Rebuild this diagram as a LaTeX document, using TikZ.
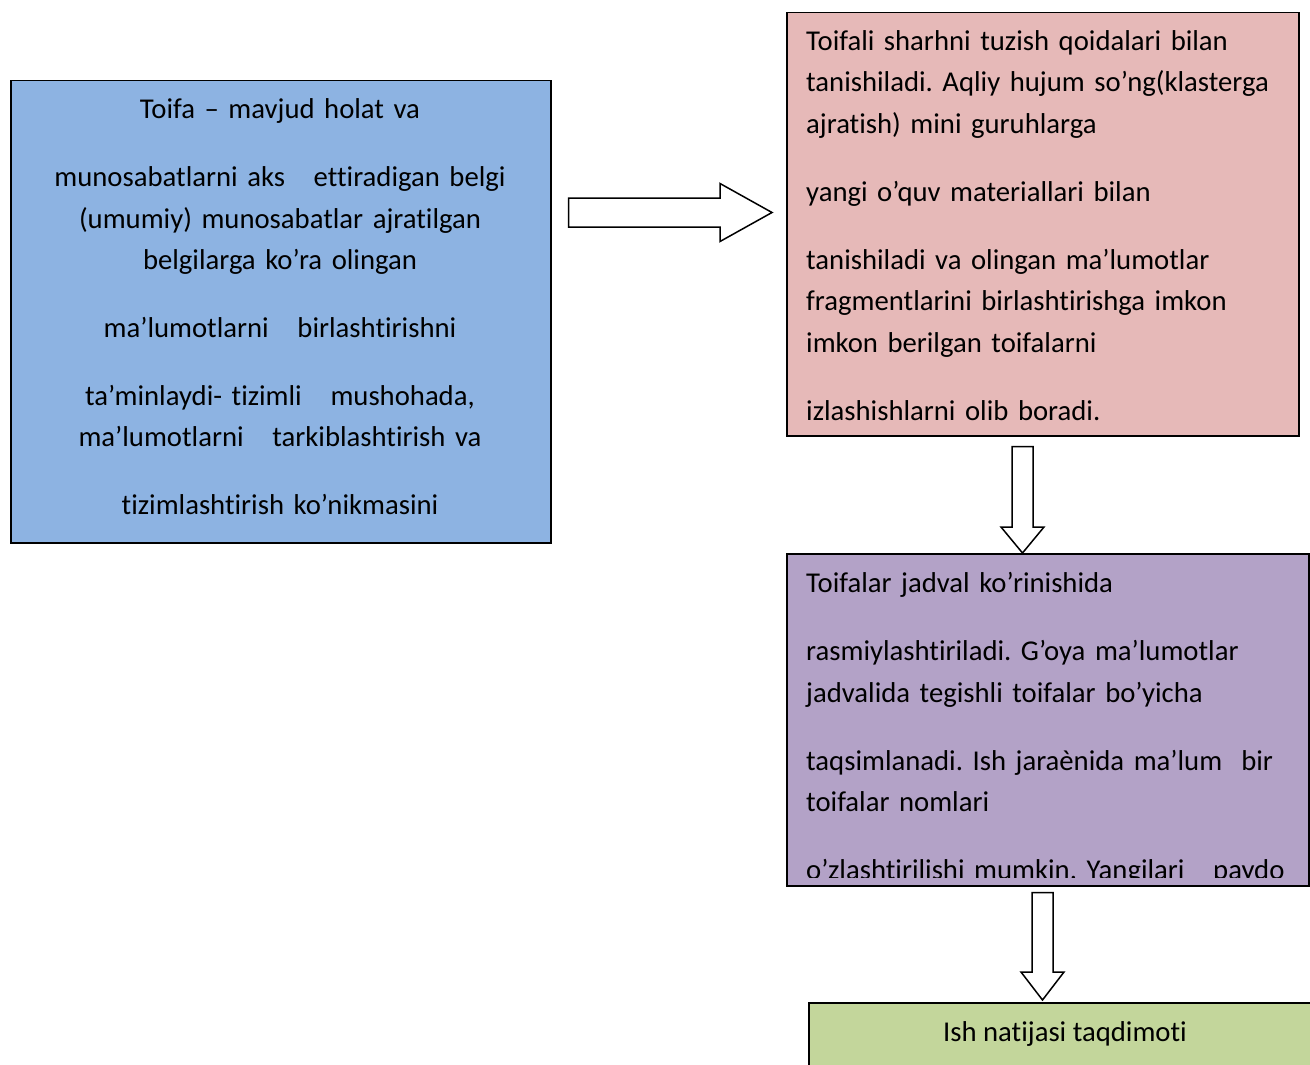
\documentclass[tikz,border=0pt]{standalone}
\usepackage{fontspec}
\setmainfont{Carlito}[Ligatures={TeX,NoCommon}]
\usetikzlibrary{calc}
\frenchspacing

% block arrow: #1 tail, #2 tip, #3 half shaft, #4 half head, #5 head length
\newcommand{\blockarrow}[5]{%
  \coordinate (hb) at ($(#2)!#5!(#1)$);
  \draw[arrowbox] ($(#1)!#3!90:(#2)$) -- ($(hb)!#3!90:(#2)$) -- ($(hb)!#4!90:(#2)$)
    -- (#2) -- ($(hb)!#4!-90:(#2)$) -- ($(hb)!#3!-90:(#2)$) -- ($(#1)!#3!-90:(#2)$) -- cycle;}

\definecolor{toifablue}{HTML}{8DB3E2}
\definecolor{sharhpink}{HTML}{E6B9B8}
\definecolor{jadvalpurple}{HTML}{B3A2C7}
\definecolor{natijagreen}{HTML}{C3D69B}

\begin{document}
\begin{tikzpicture}[x=1pt,y=1pt,
		box/.style={draw=black,line width=1.5pt,inner sep=0pt,anchor=north west},
		txt/.style={inner sep=0pt,font=\fontsize{28.7}{41.5}\selectfont},
		arrowbox/.style={draw=black,line width=1.5pt,fill=white,line join=miter}]
		\useasboundingbox (0,0) rectangle (1310,-1065);
		% boxes
		\node[box,fill=toifablue,minimum width=540pt,minimum height=462pt] (toifa) at (10,-80) {};
		\node[box,fill=sharhpink,minimum width=512pt,minimum height=423pt] (sharh) at (786,-12) {};
		\node[box,fill=jadvalpurple,minimum width=522pt,minimum height=332pt] (jadval) at (786,-553) {};
		\node[box,fill=natijagreen,minimum width=514pt,minimum height=70pt] (natija) at (808,-1002) {};
		% texts
		\node[txt,text width=530pt,align=center,anchor=base] (toifaT) at (280,-118.5) {Toifa – mavjud holat va\\[26.5pt]
			munosabatlarni aks\ \ \ ettiradigan belgi\\(umumiy) munosabatlar ajratilgan\\belgilarga ko’ra olingan\\[26.5pt]
			ma’lumotlarni\ \ \ birlashtirishni\\[26.5pt]
			ta’minlaydi- tizimli\ \ \ mushohada,\\ma’lumotlarni\ \ \ tarkiblashtirish va\\[26.5pt]
			tizimlashtirish ko’nikmasini};
		\node[txt,text width=500pt,align=left,anchor=base west] (sharhT) at (806,-50.5) {Toifali sharhni tuzish qoidalari bilan\\tanishiladi. Aqliy hujum so’ng(klasterga\\ajratish) mini guruhlarga\\[26.5pt]
			yangi o’quv materiallari bilan\\[26.5pt]
			tanishiladi va olingan ma’lumotlar\\fragmentlarini birlashtirishga imkon\\imkon berilgan toifalarni\\[26.5pt]
			izlashishlarni olib boradi.};
		\begin{scope}
			\clip (jadval.north west) rectangle ($(jadval.south east)+(0,9)$);
			\node[txt,text width=500pt,align=left,anchor=base west] (jadvalT) at (806,-592.5) {Toifalar jadval ko’rinishida\\[26.5pt]
				rasmiylashtiriladi. G’oya ma’lumotlar\\jadvalida tegishli toifalar bo’yicha\\[26.5pt]
				taqsimlanadi. Ish jaraènida ma’lum\ \ bir\\toifalar nomlari\\[26.5pt]
				o’zlashtirilishi mumkin. Yangilari\ \ \ paydo};
		\end{scope}
		\node[txt,anchor=base] (natijaT) at (1065,-1041) {Ish natijasi taqdimoti};
		% arrows
		\coordinate (a1) at ($(toifa.north east)+(17,-132.5)$);
		\coordinate (b1) at ($(sharh.north west)+(-14,-200.5)$);
		\blockarrow{a1}{b1}{14.5pt}{29pt}{52pt}
		\coordinate (a2) at ($(sharh.south west)+(236.5,-10)$);
		\coordinate (b2) at ($(jadval.north west)+(236.5,0)$);
		\blockarrow{a2}{b2}{10.5pt}{21.5pt}{26pt}
		\coordinate (a3) at ($(jadval.south west)+(256.5,-6)$);
		\coordinate (b3) at ($(natija.north west)+(234.5,2)$);
		\blockarrow{a3}{b3}{10.5pt}{21.5pt}{28pt}
\end{tikzpicture}
\end{document}
